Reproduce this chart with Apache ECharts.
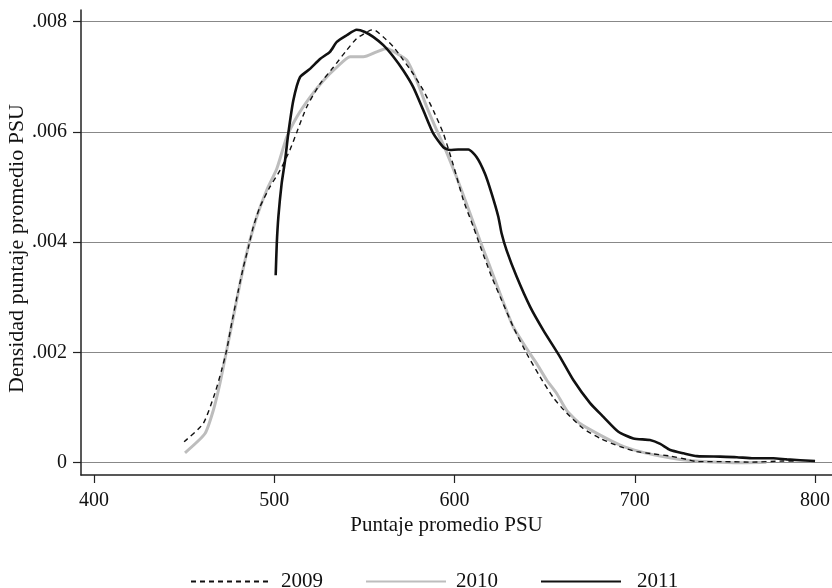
<!DOCTYPE html>
<html>
<head>
<meta charset="utf-8">
<script src="https://cdn.jsdelivr.net/npm/echarts@6/dist/echarts.min.js"></script>
<style>
html,body{margin:0;padding:0;background:#fff;}
#chart{width:832px;height:588px;}
</style>
</head>
<body>
<div id="chart"></div>
<script>
const xTicks = [400, 500, 600, 700, 800];
const yTicks = [0, 0.002, 0.004, 0.006, 0.008];

const x2009 = [450, 460.6, 467.1, 470.8, 473.6, 476.4, 480.1, 482.9, 485.7, 488.4, 492.1, 497.6, 503.2, 508.7, 512.6, 518.0, 525.4, 532.8, 540.2, 545.7, 553.1, 555, 560.5, 566.1, 571.6, 577.1, 582.7, 588.2, 593.8, 599.3, 604.9, 610.4, 615.1, 620.6, 626.1, 632.6, 640, 647.4, 654.8, 662.2, 671.4, 680.8, 691.9, 701.1, 710.4, 719.7, 728.9, 734.5, 750, 765, 782, 790];
const y2009 = [0.00038, 0.00071, 0.00126, 0.00168, 0.00204, 0.00253, 0.00313, 0.00355, 0.00391, 0.00428, 0.00464, 0.00500, 0.00530, 0.00567, 0.00600, 0.00645, 0.00687, 0.00717, 0.00748, 0.00769, 0.00784, 0.00785, 0.00772, 0.00754, 0.00730, 0.00705, 0.00675, 0.00639, 0.00597, 0.00540, 0.00476, 0.00428, 0.00385, 0.00337, 0.00295, 0.00246, 0.00198, 0.00156, 0.00118, 0.00090, 0.00062, 0.00044, 0.00029, 0.00020, 0.00016, 0.00012, 0.00006, 0.00002, 0.00002, 0.00001, 0.00003, 0.00003];

const x2010 = [450.5, 461.6, 466.2, 469.9, 473.6, 477.3, 481.0, 483.8, 486.5, 490.3, 495.8, 501.4, 506.9, 512.5, 519.9, 527.3, 534.7, 542.1, 549.5, 556.8, 562.4, 568, 573.5, 579.0, 584.6, 590.1, 594.7, 601.1, 606.6, 614.1, 619.7, 625.2, 632.6, 640, 645.5, 651.1, 656.6, 662.2, 669.6, 680.8, 691.9, 703, 714.1, 725.2, 738.1, 755, 773];
const y2010 = [0.00018, 0.00053, 0.00095, 0.00144, 0.00204, 0.00264, 0.00325, 0.00367, 0.00403, 0.00446, 0.00494, 0.00533, 0.00590, 0.00627, 0.00663, 0.00693, 0.00717, 0.00736, 0.00736, 0.00745, 0.00751, 0.00742, 0.00730, 0.00693, 0.00645, 0.00603, 0.00570, 0.00518, 0.00470, 0.00403, 0.00355, 0.00307, 0.00246, 0.00207, 0.00180, 0.00150, 0.00126, 0.00095, 0.00071, 0.00050, 0.00032, 0.00020, 0.00012, 0.00006, 0.00002, 0.00000, 0.00001];

const x2011 = [500.8, 501.4, 502.3, 504.1, 506, 507.8, 510.6, 514.3, 519.8, 525.4, 530.9, 534.7, 540.2, 545.7, 550.3, 554.9, 560.5, 566.1, 571.6, 577.1, 582.7, 588.2, 593.8, 597.5, 602, 607.7, 612.3, 616.9, 620.6, 624.3, 626.1, 628.9, 634.5, 641.9, 649.3, 658.5, 665.9, 675.2, 682.6, 690.9, 699.2, 708.4, 714.1, 719.7, 727.1, 734.5, 747.3, 756.6, 765.8, 776.9, 784.3, 800];
const y2011 = [0.00340, 0.00397, 0.00446, 0.00506, 0.00548, 0.00597, 0.00657, 0.00699, 0.00714, 0.00732, 0.00745, 0.00763, 0.00775, 0.00785, 0.00781, 0.00772, 0.00757, 0.00736, 0.00711, 0.00681, 0.00639, 0.00597, 0.00572, 0.00567, 0.00568, 0.00568, 0.00554, 0.00524, 0.00488, 0.00446, 0.00416, 0.00385, 0.00337, 0.00283, 0.00240, 0.00192, 0.00150, 0.00108, 0.00083, 0.00056, 0.00044, 0.00041, 0.00034, 0.00023, 0.00017, 0.00012, 0.00011, 0.00010, 0.00008, 0.00008, 0.00006, 0.00003];

const seriesNames = ['2009', '2010', '2011'];
const xTitle = 'Puntaje promedio PSU';
const yTitle = 'Densidad puntaje promedio PSU';

function pairs(xs, ys) { return xs.map((x, i) => [x, ys[i]]); }

const FONT = '"Liberation Serif", "DejaVu Serif", serif';
const chart = echarts.init(document.getElementById('chart'), null, {renderer: 'canvas'});
chart.setOption({
  animation: false,
  backgroundColor: '#ffffff',
  textStyle: {fontFamily: FONT},
  grid: {left: 81, right: 0, top: 10, bottom: 113, containLabel: false, outerBoundsMode: 'none'},
  legend: {
    left: 185, top: 566,
    itemWidth: 80, itemHeight: 14, itemGap: 42,
    itemStyle: {opacity: 0},
    textStyle: {fontFamily: FONT, fontSize: 21, color: '#111', padding: [0, 0, 0, 5]},
    data: [
      {name: seriesNames[0]},
      {name: seriesNames[1]},
      {name: seriesNames[2], textStyle: {padding: [0, 0, 0, 11]}}
    ]
  },
  xAxis: {
    type: 'value', min: 392.8, max: 809.4,
    name: xTitle, nameLocation: 'middle', nameGap: 40, nameMoveOverlap: false,
    nameTextStyle: {fontFamily: FONT, fontSize: 21, color: '#111', padding: [0, 20, 0, 0]},
    axisLine: {show: true, onZero: false, lineStyle: {color: '#222', width: 1.5}},
    axisTick: {show: true, length: 8, customValues: xTicks, lineStyle: {color: '#222', width: 1.2}},
    axisLabel: {customValues: xTicks, margin: 16, fontFamily: FONT, fontSize: 20, color: '#111'},
    splitLine: {show: false}
  },
  yAxis: {
    type: 'value', min: -0.000223, max: 0.008208,
    name: yTitle, nameLocation: 'middle', nameGap: 53, nameMoveOverlap: false,
    nameTextStyle: {fontFamily: FONT, fontSize: 22, color: '#111', padding: [0, 12, 0, 0]},
    axisLine: {show: true, onZero: false, lineStyle: {color: '#222', width: 1.5}},
    axisTick: {show: true, length: 8, customValues: yTicks, lineStyle: {color: '#222', width: 1.2}},
    axisLabel: {customValues: yTicks, margin: 14, fontFamily: FONT, fontSize: 20, color: '#111',
      formatter: v => (Math.abs(v) < 1e-9 ? '0' : v.toFixed(3).replace(/^0/, ''))},
    splitLine: {show: true, lineStyle: {color: '#888', width: 1.2}}
  },
  series: [
    {
      name: seriesNames[0], type: 'line', symbol: 'none', smooth: 0.2, z: 3,
      data: pairs(x2009, y2009),
      lineStyle: {color: '#111', width: 1.4, type: [5, 4]},
      itemStyle: {color: '#111'}
    },
    {
      name: seriesNames[1], type: 'line', symbol: 'none', smooth: 0.2, z: 2,
      data: pairs(x2010, y2010),
      lineStyle: {color: '#bdbdbd', width: 3},
      itemStyle: {color: '#bdbdbd'}
    },
    {
      name: seriesNames[2], type: 'line', symbol: 'none', smooth: 0.2, z: 4,
      data: pairs(x2011, y2011),
      lineStyle: {color: '#111', width: 2.6},
      itemStyle: {color: '#111'}
    }
  ]
});
</script>
</body>
</html>
